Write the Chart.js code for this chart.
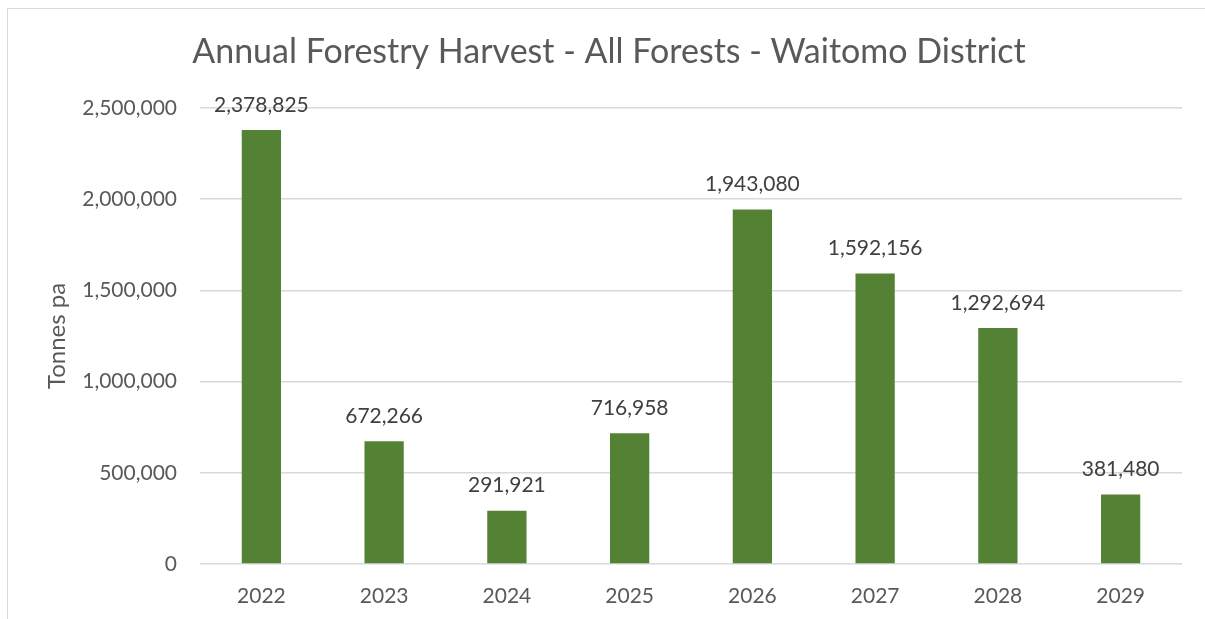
<!DOCTYPE html>
<html>
<head>
<meta charset="utf-8">
<script src="https://cdn.jsdelivr.net/npm/chart.js@4"></script>
<style>
  html, body { margin: 0; padding: 0; background: #fff; overflow: hidden; }
  #wrap { position: relative; width: 1205px; height: 619px; }
  #frame { position: absolute; left: 7px; top: 8px; width: 1300px; height: 700px;
           border: 1px solid #d9d9d9; pointer-events: none; }
</style>
</head>
<body>
<div id="wrap">
  <div id="frame"></div>
  <canvas id="harvest-chart" width="1205" height="619"></canvas>
</div>
<script>
const years = ['2022', '2023', '2024', '2025', '2026', '2027', '2028', '2029'];
const tonnes = [2378825, 672266, 291921, 716958, 1943080, 1592156, 1292694, 381480];
const chartTitle = 'Annual Forestry Harvest - All Forests - Waitomo District';
const yAxisTitle = 'Tonnes pa';

const fontFamily = 'Lato, "Open Sans", sans-serif';

// value labels above each bar
const barLabels = {
  id: 'barLabels',
  afterDatasetsDraw(chart) {
    const ctx = chart.ctx;
    const meta = chart.getDatasetMeta(0);
    ctx.save();
    ctx.font = '21px ' + fontFamily;
    ctx.fillStyle = '#404040';
    ctx.textAlign = 'center';
    ctx.textBaseline = 'middle';
    meta.data.forEach((bar, i) => {
      ctx.fillText(tonnes[i].toLocaleString('en-US'), bar.x, bar.y - 25);
    });
    ctx.restore();
  }
};

const ctx = document.getElementById('harvest-chart').getContext('2d');

const chart = new Chart(ctx, {
  type: 'bar',
  data: {
    labels: years,
    datasets: [{
      data: tonnes,
      backgroundColor: '#548235',
      borderWidth: 0,
      categoryPercentage: 1,
      barPercentage: 0.32
    }]
  },
  options: {
    responsive: false,
    animation: false,
    layout: { padding: { left: 36, right: 23, top: 0, bottom: 0 } },
    plugins: {
      legend: { display: false },
      tooltip: { enabled: false },
      title: {
        display: true,
        text: chartTitle,
        color: '#595959',
        font: { family: fontFamily, size: 34, weight: 'normal' },
        padding: { top: 32, bottom: 35 }
      }
    },
    scales: {
      x: {
        grid: { display: false },
        border: { display: false },
        ticks: {
          color: '#595959',
          font: { family: fontFamily, size: 21 },
          padding: 12
        },
        afterFit(scale) { scale.height = 55; }
      },
      y: {
        min: 0,
        max: 2500000,
        grid: { color: '#d9d9d9', lineWidth: 1.5, drawTicks: false },
        border: { display: false },
        ticks: {
          stepSize: 500000,
          color: '#595959',
          font: { family: fontFamily, size: 21 },
          padding: 23,
          callback: v => v.toLocaleString('en-US')
        },
        title: {
          display: true,
          text: yAxisTitle,
          color: '#595959',
          font: { family: fontFamily, size: 24 },
          padding: { top: 7, bottom: 0 }
        },
        afterFit(scale) { scale.width = 164; }
      }
    }
  },
  plugins: [barLabels]
});
</script>
</body>
</html>
